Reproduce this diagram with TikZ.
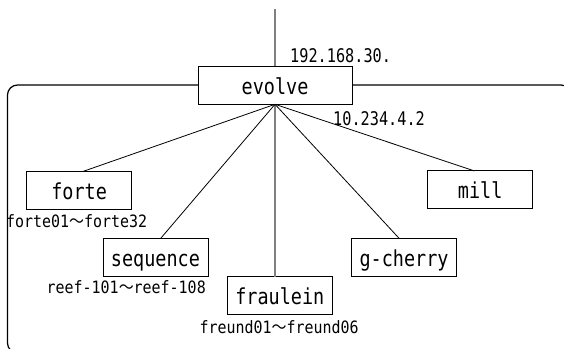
\documentclass[tikz,border=0pt]{standalone}
\usepackage{fontspec}
\newfontfamily\boxfont[FakeStretch=0.84]{DejaVu Sans Mono}
\newfontfamily\labfont[FakeStretch=0.88]{DejaVu Sans Mono}
\newfontfamily\labcjk[FakeStretch=0.88]{Noto Sans CJK JP}
\newfontfamily\ipfont[FakeStretch=0.81]{DejaVu Sans Mono}
\newcommand{\wave}{{\labcjk 〜}}
\tikzset{
  hostbox/.style={draw=black, line width=1pt, fill=white, minimum width=105pt, minimum height=38pt,
    inner sep=0pt, outer sep=0pt, text height=18pt, text depth=0pt, font=\boxfont\fontsize{22}{22}\selectfont},
  rangelabel/.style={anchor=base west, inner sep=0pt, font=\labfont\fontsize{17}{17}\selectfont},
  iplabel/.style={anchor=base west, inner sep=0pt, font=\ipfont\fontsize{18.8}{18.8}\selectfont},
  link/.style={draw=black, line width=0.8pt},
  trunk/.style={draw=black!50, line width=2pt},
  bracket/.style={draw=black, line width=1.2pt, rounded corners=10pt}
}
\begin{document}
\begin{tikzpicture}[x=1pt, y=-1pt]
\useasboundingbox (0,0) rectangle (564,348);
\clip (0,0) rectangle (564,348);
\fill[white] (0,0) rectangle (564,348);
% bracket
\draw[bracket] (7.5,85) rectangle (571,353);
% boxes
\node[hostbox, minimum width=154pt] (evolve) at (275,85.3) {evolve};
\node[hostbox] (forte) at (79.1,190.4) {forte};
\node[hostbox] (mill) at (480.2,189.9) {mill};
\node[hostbox] (sequence) at (155.5,257) {sequence};
\node[hostbox] (fraulein) at (279.8,295.5) {fraulein};
\node[hostbox] (gcherry) at (404,257.2) {g-cherry};
% coordinates
\coordinate (top) at (275,9);
\coordinate (fT) at ([xshift=4pt]forte.north);
\coordinate (sT) at ([xshift=5.5pt]sequence.north);
\coordinate (gT) at ([xshift=-5pt]gcherry.north);
\coordinate (mT) at ([xshift=-6pt]mill.north);
\coordinate (frT) at (evolve.south |- fraulein.north);
% connectors
\draw[trunk] (top) -- (evolve.north);
\draw[trunk] (evolve.south) -- (frT);
\draw[link] (evolve.south) -- (fT);
\draw[link] (evolve.south) -- (sT);
\draw[link] (evolve.south) -- (gT);
\draw[link] (evolve.south) -- (mT);
% labels
\node[iplabel] (ip1) at (290,62) {192.168.30.};
\node[iplabel] (ip2) at (333,125) {10.234.4.2};
\node[rangelabel] (lforte) at (6,227) {forte01\wave forte32};
\node[rangelabel] (lseq) at (46.5,293) {reef-101\wave reef-108};
\node[rangelabel] (lfrau) at (199.3,333) {freund01\wave freund06};
\end{tikzpicture}
\end{document}
